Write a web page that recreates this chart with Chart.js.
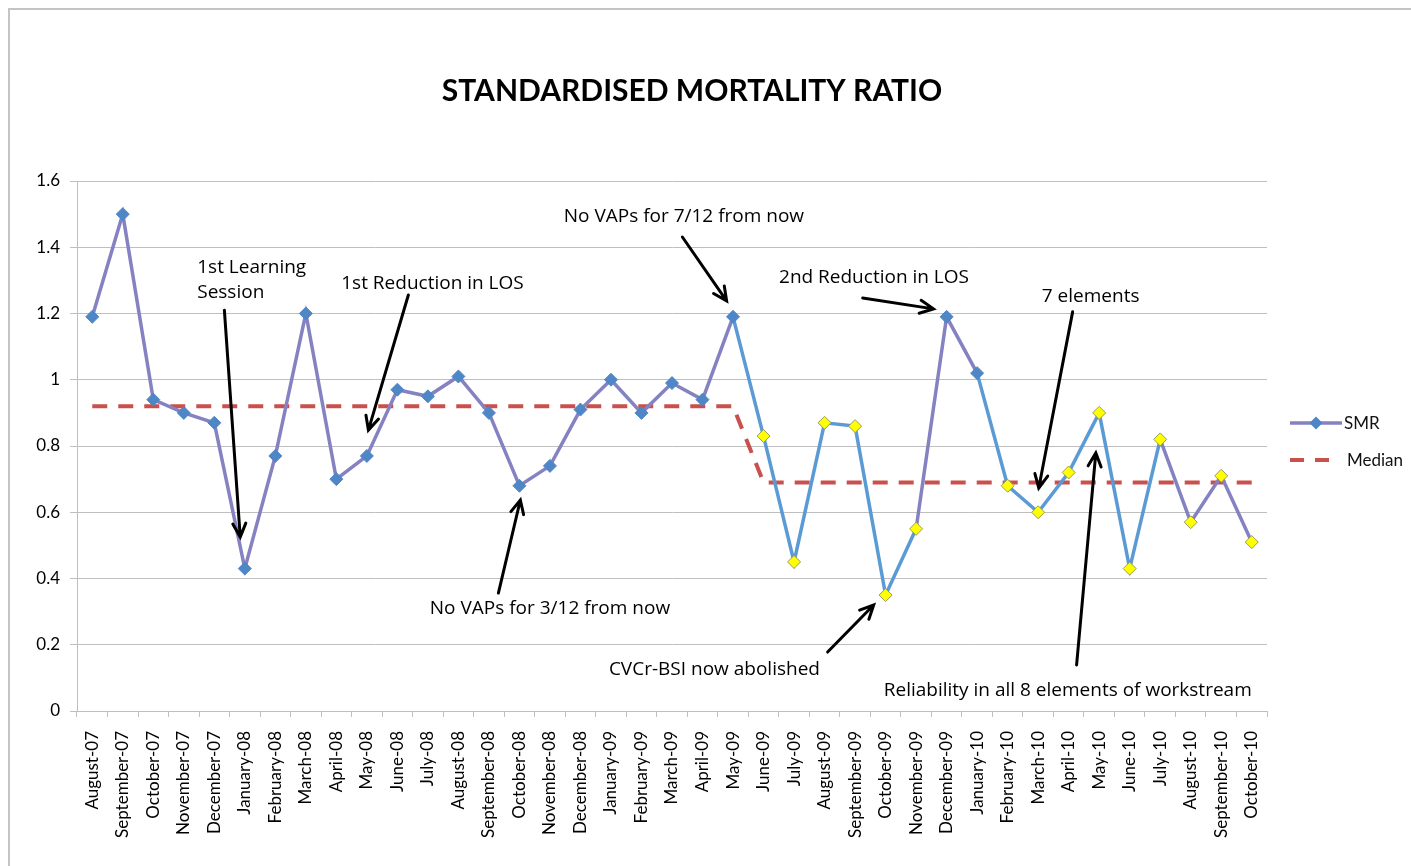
<!DOCTYPE html>
<html>
<head>
<meta charset="utf-8">
<title>Standardised Mortality Ratio</title>
<script src="https://cdn.jsdelivr.net/npm/chart.js@4"></script>
<style>
  html, body { margin: 0; padding: 0; background: #fff; overflow: hidden; }
  #frame { position: absolute; left: 8px; top: 8px; width: 1500px; height: 1000px;
           border-top: 2px solid #c4c4c4; border-left: 2px solid #c4c4c4; }
  #smrChart { position: absolute; left: 0; top: 0; }
</style>
</head>
<body>
<div id="frame"></div>
<canvas id="smrChart" width="1411" height="866"></canvas>
<script>
// Months on the x axis
const months = [
  "August-07", "September-07", "October-07", "November-07", "December-07",
  "January-08", "February-08", "March-08", "April-08", "May-08", "June-08",
  "July-08", "August-08", "September-08", "October-08", "November-08", "December-08",
  "January-09", "February-09", "March-09", "April-09", "May-09", "June-09",
  "July-09", "August-09", "September-09", "October-09", "November-09", "December-09",
  "January-10", "February-10", "March-10", "April-10", "May-10", "June-10",
  "July-10", "August-10", "September-10", "October-10"
];

// SMR values
const smr = [
  1.19, 1.50, 0.94, 0.90, 0.87,
  0.43, 0.77, 1.20, 0.70, 0.77, 0.97,
  0.95, 1.01, 0.90, 0.68, 0.74, 0.91,
  1.00, 0.90, 0.99, 0.94, 1.19, 0.83,
  0.45, 0.87, 0.86, 0.35, 0.55, 1.19,
  1.02, 0.68, 0.60, 0.72, 0.90, 0.43,
  0.82, 0.57, 0.71, 0.51
];

// Median: 0.92 up to May-09, 0.69 afterwards
const median = [
  0.92, 0.92, 0.92, 0.92, 0.92,
  0.92, 0.92, 0.92, 0.92, 0.92, 0.92,
  0.92, 0.92, 0.92, 0.92, 0.92, 0.92,
  0.92, 0.92, 0.92, 0.92, 0.92, 0.69,
  0.69, 0.69, 0.69, 0.69, 0.69, 0.69,
  0.69, 0.69, 0.69, 0.69, 0.69, 0.69,
  0.69, 0.69, 0.69, 0.69
];

const yTicks = [0, 0.2, 0.4, 0.6, 0.8, 1, 1.2, 1.4, 1.6];

// which points get a yellow marker, which segments are drawn blue
const yellowPoints = [22, 23, 24, 25, 26, 27, 30, 31, 32, 33, 34, 35, 36, 37, 38];
const blueSegments = [21, 22, 23, 24, 25, 26, 29, 30, 31, 32, 33, 34];

// annotation notes: text anchor and arrow from/to, in (month index, SMR value)
const notes = [
  { lines: ["1st Learning", "Session"], at: [3.44, 1.34], align: "left", from: [4.33, 1.21], to: [4.85, 0.525] },
  { lines: ["1st Reduction in LOS"], at: [11.15, 1.289], from: [10.36, 1.256], to: [9.05, 0.848] },
  { lines: ["No VAPs for 7/12 from now"], at: [19.39, 1.494], from: [19.34, 1.431], to: [20.79, 1.238] },
  { lines: ["2nd Reduction in LOS"], at: [25.62, 1.307], from: [25.25, 1.247], to: [27.57, 1.214] },
  { lines: ["7 elements"], at: [32.72, 1.25], from: [32.13, 1.205], to: [31.02, 0.673] },
  { lines: ["No VAPs for 3/12 from now"], at: [15.0, 0.308], from: [13.31, 0.356], to: [14.03, 0.637] },
  { lines: ["CVCr-BSI now abolished"], at: [20.39, 0.124], from: [24.1, 0.178], to: [25.61, 0.32] },
  { lines: ["Reliability in all 8 elements of workstream"], at: [31.97, 0.063], from: [32.26, 0.139], to: [32.89, 0.779] }
];

const PURPLE = "#8582c2";
const BLUE = "#5b9bd5";
const MARKER_BLUE = "#4f86c6";
const YELLOW = "#ffff00";
const RED = "#c9504c";
const FONT = "Lato, 'Open Sans', sans-serif";
const NOTE_FONT = "'Open Sans', Lato, sans-serif";

function drawArrow(ctx, x1, y1, x2, y2) {
  const ang = Math.atan2(y2 - y1, x2 - x1);
  const head = 15, spread = 0.45;
  ctx.beginPath();
  ctx.moveTo(x1, y1);
  ctx.lineTo(x2, y2);
  ctx.moveTo(x2 - head * Math.cos(ang - spread), y2 - head * Math.sin(ang - spread));
  ctx.lineTo(x2, y2);
  ctx.lineTo(x2 - head * Math.cos(ang + spread), y2 - head * Math.sin(ang + spread));
  ctx.stroke();
}

// Title, notes with arrows, and the legend on the right
const extras = {
  id: "extras",
  afterDraw(chart) {
    const ctx = chart.ctx;
    const xs = chart.scales.x, ys = chart.scales.y;
    ctx.save();

    ctx.fillStyle = "#000";
    ctx.font = "bold 30px " + FONT;
    ctx.textAlign = "center";
    ctx.textBaseline = "middle";
    ctx.fillText("STANDARDISED MORTALITY RATIO", 692, 91);

    ctx.font = "19px " + NOTE_FONT;
    ctx.strokeStyle = "#000";
    ctx.lineWidth = 3;
    ctx.lineCap = "round";
    notes.forEach(n => {
      const tx = xs.getPixelForValue(n.at[0]);
      const ty = ys.getPixelForValue(n.at[1]);
      ctx.textAlign = n.align || "center";
      n.lines.forEach((line, i) => ctx.fillText(line, tx, ty + i * 25));
      drawArrow(ctx,
        xs.getPixelForValue(n.from[0]), ys.getPixelForValue(n.from[1]),
        xs.getPixelForValue(n.to[0]), ys.getPixelForValue(n.to[1]));
    });

    // legend
    const lx = chart.chartArea.right + 23;
    ctx.lineCap = "butt";
    ctx.strokeStyle = PURPLE;
    ctx.lineWidth = 3.5;
    ctx.beginPath();
    ctx.moveTo(lx, 423);
    ctx.lineTo(lx + 52, 423);
    ctx.stroke();
    ctx.fillStyle = MARKER_BLUE;
    ctx.beginPath();
    ctx.moveTo(lx + 26, 416.5);
    ctx.lineTo(lx + 32.5, 423);
    ctx.lineTo(lx + 26, 429.5);
    ctx.lineTo(lx + 19.5, 423);
    ctx.closePath();
    ctx.fill();
    ctx.strokeStyle = RED;
    ctx.lineWidth = 4;
    ctx.setLineDash([14, 11]);
    ctx.beginPath();
    ctx.moveTo(lx, 460);
    ctx.lineTo(lx + 44, 460);
    ctx.stroke();
    ctx.setLineDash([]);
    ctx.fillStyle = "#111";
    ctx.font = "17px " + FONT;
    ctx.textAlign = "left";
    ctx.fillText("SMR", lx + 54, 424);
    ctx.fillText("Median", lx + 57, 461);

    ctx.restore();
  }
};

new Chart(document.getElementById("smrChart"), {
  type: "line",
  data: {
    labels: months,
    datasets: [
      {
        label: "SMR",
        data: smr,
        borderColor: PURPLE,
        borderWidth: 3.5,
        segment: {
          borderColor: c => blueSegments.includes(c.p0DataIndex) ? BLUE : PURPLE
        },
        pointStyle: "rectRot",
        pointRadius: 6.5,
        pointBorderWidth: 1,
        pointBackgroundColor: smr.map((v, i) => yellowPoints.includes(i) ? YELLOW : MARKER_BLUE),
        pointBorderColor: smr.map((v, i) => yellowPoints.includes(i) ? "#9a9a5a" : MARKER_BLUE),
        tension: 0
      },
      {
        label: "Median",
        data: median,
        borderColor: RED,
        borderWidth: 4,
        borderDash: [15, 11],
        pointRadius: 0,
        tension: 0
      }
    ]
  },
  options: {
    responsive: false,
    animation: false,
    layout: { padding: { top: 181, right: 144, left: 0, bottom: 0 } },
    plugins: {
      legend: { display: false },
      title: { display: false },
      tooltip: { enabled: false }
    },
    scales: {
      x: {
        offset: true,
        grid: { offset: true, drawOnChartArea: false, drawTicks: true, tickLength: 6, color: "#bfbfbf" },
        border: { color: "#bfbfbf" },
        ticks: {
          autoSkip: false, minRotation: 90, maxRotation: 90, padding: 14,
          color: "#000", font: { family: FONT, size: 17 }
        },
        afterFit: s => { s.height = 155; }
      },
      y: {
        min: 0,
        max: 1.6,
        afterBuildTicks: s => { s.ticks = yTicks.map(v => ({ value: v })); },
        grid: { color: "#bfbfbf", tickLength: 7 },
        border: { color: "#bfbfbf" },
        ticks: {
          padding: 10, color: "#000", font: { family: FONT, size: 17 },
          callback: v => String(Number(v.toFixed(1)))
        },
        afterFit: s => { s.width = 77; }
      }
    }
  },
  plugins: [extras]
});
</script>
</body>
</html>
